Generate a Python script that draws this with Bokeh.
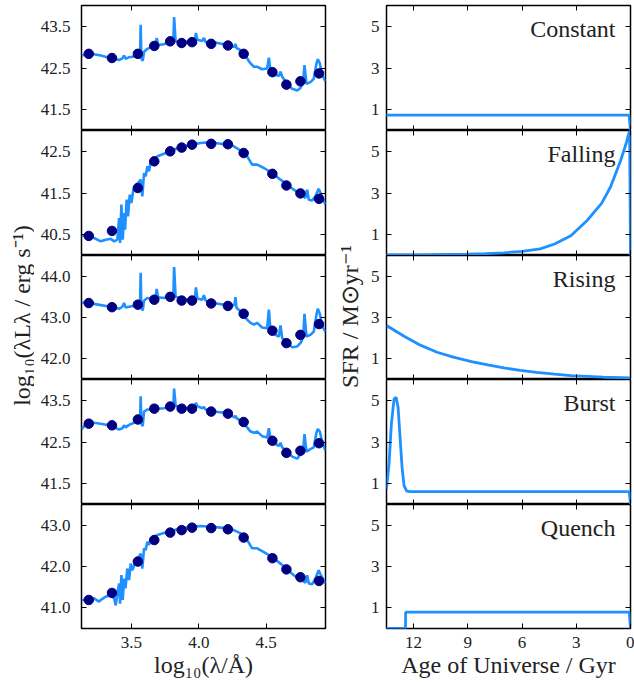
import numpy as np
from bokeh.plotting import figure
from bokeh.models import Range1d, LinearAxis, FixedTicker, PrintfTickFormatter, Label, CustomJSTickFormatter
from bokeh.layouts import row, column
from bokeh.embed import file_html
from bokeh.resources import INLINE

FONT = "'Liberation Serif', serif"
TXT = "#222222"
SED_COLOR = "#1E90FF"
PHOT_COLOR = "#000080"

# ---------------- data ----------------
panel_names = ["Constant", "Falling", "Rising", "Burst", "Quench"]

# photometric points (log10 wavelength / Angstrom)
phot_logwl = [3.184, 3.356, 3.548, 3.670, 3.788, 3.873, 3.950, 4.092, 4.216, 4.333, 4.546, 4.650, 4.754, 4.892]
phot_constant = [42.84, 42.74, 42.84, 43.03, 43.14, 43.10, 43.12, 43.08, 43.04, 42.84, 42.40, 42.10, 42.18, 42.37]
phot_falling = [40.47, 40.59, 41.62, 42.26, 42.50, 42.59, 42.66, 42.68, 42.67, 42.46, 41.96, 41.68, 41.49, 41.36]
phot_rising = [43.35, 43.25, 43.31, 43.43, 43.50, 43.41, 43.41, 43.34, 43.28, 43.09, 42.68, 42.38, 42.58, 42.84]
phot_burst = [42.94, 42.90, 43.04, 43.30, 43.35, 43.30, 43.30, 43.23, 43.18, 42.98, 42.53, 42.24, 42.29, 42.47]
phot_quench = [41.19, 41.36, 42.12, 42.64, 42.82, 42.88, 42.94, 42.93, 42.90, 42.70, 42.20, 41.93, 41.74, 41.65]

# model spectra (star-forming histories share one wavelength grid)
sed_x_sf = [3.132, 3.174, 3.223, 3.273, 3.322, 3.372, 3.409, 3.433, 3.446, 3.458,
            3.483, 3.532, 3.564, 3.569, 3.574, 3.584, 3.594, 3.619, 3.656, 3.680,
            3.688, 3.698, 3.742, 3.779, 3.811, 3.817, 3.828, 3.865, 3.915, 3.972,
            3.979, 3.989, 4.026, 4.038, 4.051, 4.112, 4.186, 4.236, 4.265, 4.272,
            4.280, 4.310, 4.330, 4.359, 4.384, 4.409, 4.433, 4.470, 4.507, 4.520,
            4.532, 4.569, 4.594, 4.606, 4.619, 4.656, 4.693, 4.730, 4.754, 4.774,
            4.784, 4.799, 4.828, 4.853, 4.873, 4.883, 4.898, 4.916, 4.940]
sed_constant = [42.80, 42.84, 42.83, 42.80, 42.76, 42.73, 42.69, 42.73, 42.80, 42.72,
                42.76, 42.78, 42.76, 43.54, 42.73, 42.67, 42.89, 42.96, 43.01, 43.05,
                43.22, 43.05, 43.07, 43.12, 43.12, 43.72, 43.14, 43.12, 43.14, 43.18,
                43.34, 43.18, 43.15, 43.22, 43.12, 43.12, 43.07, 43.04, 43.00, 43.08,
                42.98, 42.93, 42.85, 42.73, 42.61, 42.53, 42.53, 42.47, 42.49, 42.75,
                42.41, 42.34, 42.31, 42.41, 42.29, 42.12, 42.00, 41.96, 42.02, 42.16,
                42.57, 42.12, 42.16, 42.24, 42.61, 42.71, 42.61, 42.33, 42.18]
sed_rising = [43.35, 43.38, 43.33, 43.30, 43.27, 43.25, 43.21, 43.26, 43.35, 43.24,
              43.26, 43.29, 43.27, 44.08, 43.23, 43.17, 43.41, 43.47, 43.46, 43.49,
              43.69, 43.49, 43.47, 43.51, 43.49, 44.22, 43.51, 43.47, 43.43, 43.47,
              43.73, 43.46, 43.43, 43.54, 43.41, 43.35, 43.31, 43.27, 43.31, 43.49,
              43.23, 43.15, 43.06, 42.95, 42.87, 42.83, 42.87, 42.76, 42.74, 43.19,
              42.68, 42.58, 42.54, 42.81, 42.50, 42.38, 42.28, 42.30, 42.38, 42.52,
              43.09, 42.54, 42.58, 42.66, 43.07, 43.21, 43.09, 42.79, 42.65]
sed_burst = [42.81, 42.98, 42.96, 42.94, 42.91, 42.85, 42.80, 42.83, 42.90, 42.85,
             42.91, 42.98, 42.99, 43.60, 42.94, 42.88, 43.23, 43.28, 43.28, 43.30,
             43.38, 43.30, 43.31, 43.34, 43.34, 43.78, 43.38, 43.31, 43.31, 43.36,
             43.44, 43.36, 43.31, 43.34, 43.28, 43.23, 43.20, 43.14, 43.09, 43.13,
             43.07, 43.02, 42.95, 42.85, 42.75, 42.72, 42.75, 42.64, 42.61, 42.83,
             42.56, 42.45, 42.41, 42.48, 42.37, 42.27, 42.15, 42.10, 42.21, 42.29,
             42.69, 42.27, 42.33, 42.37, 42.73, 42.81, 42.75, 42.49, 42.29]

sed_x_falling = [3.132, 3.174, 3.223, 3.273, 3.310, 3.347, 3.372, 3.396, 3.409, 3.416,
                 3.426, 3.436, 3.446, 3.453, 3.465, 3.475, 3.488, 3.500, 3.515, 3.532,
                 3.549, 3.569, 3.581, 3.594, 3.606, 3.619, 3.631, 3.643, 3.668, 3.693,
                 3.742, 3.791, 3.865, 3.940, 4.014, 4.088, 4.162, 4.211, 4.260, 4.310,
                 4.359, 4.396, 4.433, 4.483, 4.544, 4.606, 4.656, 4.705, 4.742, 4.767,
                 4.791, 4.804, 4.816, 4.841, 4.865, 4.889, 4.909, 4.940]
sed_falling = [40.48, 40.46, 40.42, 40.34, 40.38, 40.40, 40.34, 40.38, 40.90, 40.30,
               41.22, 40.38, 41.02, 40.62, 41.34, 40.94, 41.46, 41.26, 41.58, 41.66,
               41.74, 41.82, 41.42, 41.98, 41.90, 42.14, 42.02, 42.26, 42.30, 42.38,
               42.44, 42.52, 42.60, 42.66, 42.70, 42.72, 42.68, 42.68, 42.62, 42.52,
               42.38, 42.18, 42.18, 42.10, 41.98, 41.82, 41.70, 41.58, 41.50, 41.46,
               41.38, 41.58, 41.34, 41.32, 41.42, 41.60, 41.46, 41.22]

sed_x_quench = [3.132, 3.174, 3.223, 3.260, 3.273, 3.310, 3.347, 3.372, 3.384, 3.396,
                3.409, 3.416, 3.426, 3.436, 3.446, 3.456, 3.470, 3.483, 3.495, 3.507,
                3.525, 3.544, 3.569, 3.581, 3.594, 3.606, 3.619, 3.631, 3.643, 3.668,
                3.693, 3.742, 3.791, 3.865, 3.940, 4.014, 4.088, 4.162, 4.211, 4.260,
                4.310, 4.359, 4.396, 4.433, 4.483, 4.544, 4.606, 4.656, 4.705, 4.742,
                4.767, 4.791, 4.804, 4.816, 4.841, 4.865, 4.889, 4.909, 4.940]
sed_quench = [41.19, 41.19, 41.23, 41.15, 41.19, 41.27, 41.31, 41.23, 41.06, 41.35,
              41.59, 41.10, 41.79, 41.19, 41.71, 41.47, 41.95, 41.67, 42.07, 41.91,
              42.07, 42.15, 42.31, 41.95, 42.44, 42.40, 42.60, 42.52, 42.68, 42.72,
              42.76, 42.81, 42.86, 42.92, 42.96, 42.98, 42.96, 42.94, 42.92, 42.88,
              42.80, 42.64, 42.44, 42.44, 42.35, 42.23, 42.07, 41.93, 41.79, 41.71,
              41.67, 41.61, 41.79, 41.59, 41.57, 41.71, 41.91, 41.77, 41.59]

# star-formation histories (age of Universe / Gyr, SFR / Msun yr^-1)
sfh_age_constant = [13.6, 0.08, 0.0]
sfh_constant = [0.74, 0.74, 0.0]
sfh_age_falling = [13.6, 11.0, 9.0, 8.0, 7.0, 6.0, 5.0, 4.2, 3.3, 2.4, 1.6, 1.1, 0.55, 0.25, 0.05, 0.0]
sfh_falling = [0.03, 0.04, 0.06, 0.09, 0.13, 0.20, 0.32, 0.55, 0.95, 1.68, 2.50, 3.30, 4.55, 5.35, 6.00, 0.0]
sfh_age_rising = [13.5, 12.5, 11.6, 10.7, 9.8, 8.8, 7.9, 7.0, 6.1, 5.2, 4.2, 3.3, 2.4, 1.5, 0.0]
sfh_rising = [2.61, 2.08, 1.65, 1.32, 1.08, 0.87, 0.71, 0.56, 0.44, 0.34, 0.26, 0.19, 0.15, 0.11, 0.08]
sfh_age_burst = [13.5, 13.36, 13.23, 13.08, 12.97, 12.86, 12.75, 12.64, 12.53, 12.38, 12.16, 0.07, 0.0]
sfh_burst = [0.75, 1.95, 3.87, 5.07, 5.15, 4.67, 3.23, 1.79, 0.91, 0.64, 0.62, 0.62, 0.0]
sfh_age_quench = [13.6, 12.45, 12.44, 0.07, 0.0]
sfh_quench = [0.0, 0.0, 0.79, 0.79, 0.0]

sed_x_lists = [sed_x_sf, sed_x_falling, sed_x_sf, sed_x_sf, sed_x_quench]
sed_y_lists = [sed_constant, sed_falling, sed_rising, sed_burst, sed_quench]
phot_lists = [phot_constant, phot_falling, phot_rising, phot_burst, phot_quench]
sfh_x_lists = [sfh_age_constant, sfh_age_falling, sfh_age_rising, sfh_age_burst, sfh_age_quench]
sfh_y_lists = [sfh_constant, sfh_falling, sfh_rising, sfh_burst, sfh_quench]

sed_ylims = [(41.0, 44.0), (40.0, 43.0), (41.5, 44.5), (41.0, 44.0), (40.5, 43.5)]
sed_yticks = [[41.5, 42.5, 43.5], [40.5, 41.5, 42.5], [42.0, 43.0, 44.0], [41.5, 42.5, 43.5], [41.0, 42.0, 43.0]]
sed_xlim = (3.13, 4.94)
sed_xticks = [3.5, 4.0, 4.5]
sfh_xlim = (13.5, 0.0)
sfh_xticks = [12, 9, 6, 3, 0]
sfh_ylim = (0.0, 6.0)
sfh_yticks = [1, 3, 5]

# ---------------- layout ----------------
TOP = 5
BOTTOM = 55
FRAME_W = 244
frame_heights = [125, 125, 124, 125, 124]


def style_axis(ax, show, fmt, standoff):
    ax.axis_line_color = None
    ax.major_tick_in = 5
    ax.major_tick_out = 0
    ax.minor_tick_in = 0
    ax.minor_tick_out = 0
    ax.major_tick_line_color = "black"
    ax.major_tick_line_width = 1
    if show:
        ax.formatter = PrintfTickFormatter(format=fmt)
        ax.major_label_text_font = FONT
        ax.major_label_text_font_size = "17px"
        ax.major_label_text_color = TXT
        ax.major_label_standoff = standoff
    else:
        ax.formatter = CustomJSTickFormatter(code="return '';")
        ax.major_label_text_font_size = "1px"
        ax.major_label_text_alpha = 0
        ax.major_label_standoff = 0


def make_panel(i, xlim, ylim, xticks, yticks, xfmt, yfmt, bl, br, xlabel, ystand):
    bt = TOP if i == 0 else 0
    bb = BOTTOM if i == 4 else 0
    p = figure(width=bl + FRAME_W + br, height=bt + frame_heights[i] + bb,
               x_range=Range1d(*xlim), y_range=Range1d(*ylim),
               output_backend="svg", toolbar_location=None,
               x_axis_location=None, y_axis_location=None,
               min_border_left=bl, min_border_right=br,
               min_border_top=bt, min_border_bottom=bb)
    p.xgrid.visible = False
    p.ygrid.visible = False
    p.outline_line_color = "black"
    p.outline_line_width = 1.5
    p.background_fill_color = "white"
    p.border_fill_color = "white"
    for side, ticks, fmt, show, so in (("left", yticks, yfmt, True, ystand),
                                       ("right", yticks, yfmt, False, 0),
                                       ("above", xticks, xfmt, False, 0),
                                       ("below", xticks, xfmt, i == 4, 8)):
        ax = LinearAxis(ticker=FixedTicker(ticks=ticks, minor_ticks=[]))
        style_axis(ax, show, fmt, so)
        if side == "below" and i == 4:
            ax.axis_label = xlabel
            ax.axis_label_text_font = FONT
            ax.axis_label_text_font_size = "24px"
            ax.axis_label_text_font_style = "normal"
            ax.axis_label_text_color = TXT
            ax.axis_label_standoff = 1
        p.add_layout(ax, side)
    return p


left_figs = []
right_figs = []
for i in range(5):
    p = make_panel(i, sed_xlim, sed_ylims[i], sed_xticks, sed_yticks[i], "%.1f", "%.1f",
                   47, 5, "log₁₀(λ/Å)", 11)
    p.line(sed_x_lists[i], sed_y_lists[i], line_color=SED_COLOR, line_width=2.6)
    p.scatter(phot_logwl, phot_lists[i], size=9.5, fill_color=PHOT_COLOR, line_color=PHOT_COLOR)
    left_figs.append(p)

    q = make_panel(i, sfh_xlim, sfh_ylim, sfh_xticks, sfh_yticks, "%d", "%d",
                   20, 4, "Age of Universe / Gyr", 7)
    q.line(sfh_x_lists[i], sfh_y_lists[i], line_color=SED_COLOR, line_width=2.8)
    q.add_layout(Label(x=0.83, y=4.85, text=panel_names[i], text_align="right",
                       text_baseline="alphabetic", text_font=FONT, text_font_size="24px",
                       text_color=TXT))
    right_figs.append(q)


def label_fig(w, text, cx, cy):
    p = figure(width=w, height=683, x_range=Range1d(0, w), y_range=Range1d(0, 683),
               output_backend="svg", toolbar_location=None,
               x_axis_location=None, y_axis_location=None, min_border=0)
    p.xgrid.visible = False
    p.ygrid.visible = False
    p.outline_line_color = None
    p.add_layout(Label(x=cx, y=683 - cy, text=text, angle=np.pi / 2, text_align="center",
                       text_baseline="middle", text_font=FONT, text_font_size="24px",
                       text_color=TXT))
    return p


left_lab = label_fig(34, "log₁₀(λLλ / erg s⁻¹)", 21, 315)
right_lab = label_fig(36, "SFR / M⊙yr⁻¹", 19, 316)

layout = row(left_lab, column(*left_figs), right_lab, column(*right_figs))

with open("out.html", "w", encoding="utf-8") as f:
    f.write(file_html(layout, INLINE))
